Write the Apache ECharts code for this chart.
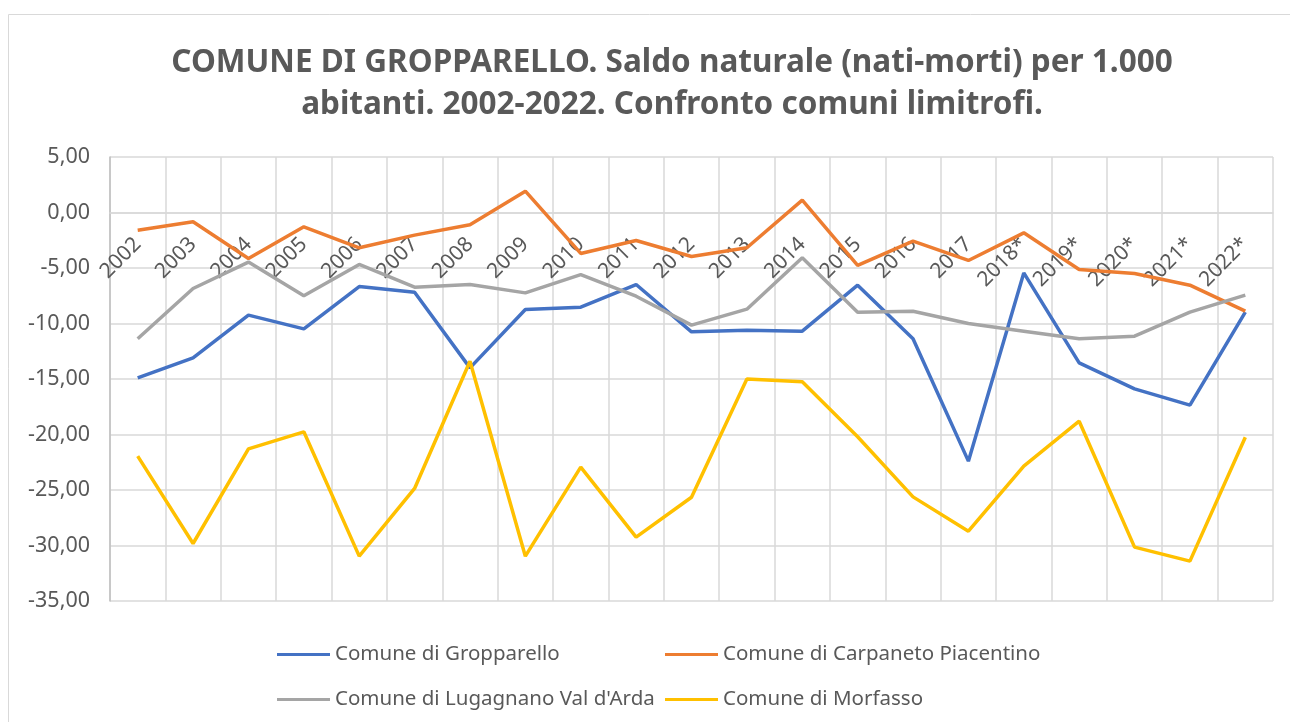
<!DOCTYPE html>
<html>
<head>
<meta charset="utf-8">
<script src="https://cdn.jsdelivr.net/npm/echarts@6/dist/echarts.min.js"></script>
<style>
  html, body { margin: 0; padding: 0; background: #fff; }
  #chart { width: 1290px; height: 722px; }
</style>
</head>
<body>
<div id="chart"></div>
<script>
// anni (con * = dati provvisori)
const years = ['2002', '2003', '2004', '2005', '2006', '2007', '2008', '2009', '2010', '2011', '2012',
  '2013', '2014', '2015', '2016', '2017', '2018*', '2019*', '2020*', '2021*', '2022*'];

// saldo naturale per 1.000 abitanti
const gropparello = [-14.9, -13.1, -9.25, -10.48, -6.67, -7.18, -14.0, -8.74, -8.53, -6.49, -10.75,
  -10.6, -10.69, -6.55, -11.38, -22.4, -5.44, -13.54, -15.89, -17.36, -8.98];
const carpaneto = [-1.59, -0.84, -4.14, -1.29, -3.18, -2.04, -1.11, 1.92, -3.69, -2.52, -3.96,
  -3.18, 1.11, -4.77, -2.58, -4.32, -1.83, -5.14, -5.5, -6.55, -8.89];
const lugagnano = [-11.38, -6.85, -4.47, -7.5, -4.68, -6.73, -6.49, -7.24, -5.59, -7.54, -10.15,
  -8.71, -4.08, -8.98, -8.89, -10.0, -10.69, -11.38, -11.14, -8.98, -7.45];
const morfasso = [-21.95, -29.82, -21.29, -19.76, -30.96, -24.86, -13.4, -30.96, -22.94, -29.25, -25.65,
  -14.99, -15.25, -20.2, -25.62, -28.71, -22.85, -18.8, -30.15, -31.41, -20.24];

const seriesNames = ['Comune di Gropparello', 'Comune di Carpaneto Piacentino',
  "Comune di Lugagnano Val d'Arda", 'Comune di Morfasso'];
const seriesColors = ['#4472C4', '#ED7D31', '#A5A5A5', '#FFC000'];
const seriesData = [gropparello, carpaneto, lugagnano, morfasso];

const txt = '#595959';
const grid = '#d9d9d9';

let myChart = echarts.init(document.getElementById('chart'));

// legenda su due righe, colonne allineate come in Excel
const legendPos = [[272, 639], [660, 639], [272, 684], [660, 684]];

let option = {
  animation: false,
  title: {
    text: 'COMUNE DI GROPPARELLO. Saldo naturale (nati-morti) per 1.000\nabitanti. 2002-2022. Confronto comuni limitrofi.',
    left: 667,
    textAlign: 'center',
    top: 37,
    textStyle: {
      fontFamily: 'Noto Sans',
      fontSize: 31.5,
      fontWeight: 'bold',
      color: txt,
      lineHeight: 42
    }
  },
  graphic: [{
    type: 'rect',
    shape: { x: 8.5, y: 14.5, width: 1300, height: 720 },
    style: { fill: 'none', stroke: grid, lineWidth: 1 },
    silent: true
  }],
  legend: seriesNames.map((n, i) => ({
    data: [n],
    left: legendPos[i][0],
    top: legendPos[i][1],
    icon: 'rect',
    itemWidth: 53,
    itemHeight: 3,
    textStyle: { fontFamily: 'Noto Sans', fontSize: 20.5, color: txt }
  })),
  grid: { left: 110, right: 17, top: 157, bottom: 121 },
  xAxis: {
    type: 'category',
    data: years,
    boundaryGap: true,
    // asse orizzontale che incrocia a 0 (come in Excel)
    offset: -388,
    axisLine: { onZero: false, lineStyle: { color: grid, width: 1.5 } },
    axisTick: { show: false },
    axisLabel: {
      rotate: 45,
      interval: 0,
      margin: 28,
      fontFamily: 'Noto Sans',
      fontSize: 21,
      color: txt
    },
    splitLine: { show: true, interval: 0, lineStyle: { color: grid, width: 1.5 } }
  },
  yAxis: {
    type: 'value',
    min: -35,
    max: 5,
    interval: 5,
    axisLine: { show: true, lineStyle: { color: '#bfbfbf', width: 1.5 } },
    axisTick: { show: false },
    axisLabel: {
      margin: 20,
      fontFamily: 'Noto Sans',
      fontSize: 21.5,
      color: txt,
      formatter: v => v.toFixed(2).replace('.', ',')
    },
    splitLine: { lineStyle: { color: grid, width: 1.5 } }
  },
  series: seriesNames.map((n, i) => ({
    name: n,
    type: 'line',
    data: seriesData[i],
    symbol: 'none',
    color: seriesColors[i],
    lineStyle: { width: 3.5, color: seriesColors[i] }
  }))
};

myChart.setOption(option);
</script>
</body>
</html>
